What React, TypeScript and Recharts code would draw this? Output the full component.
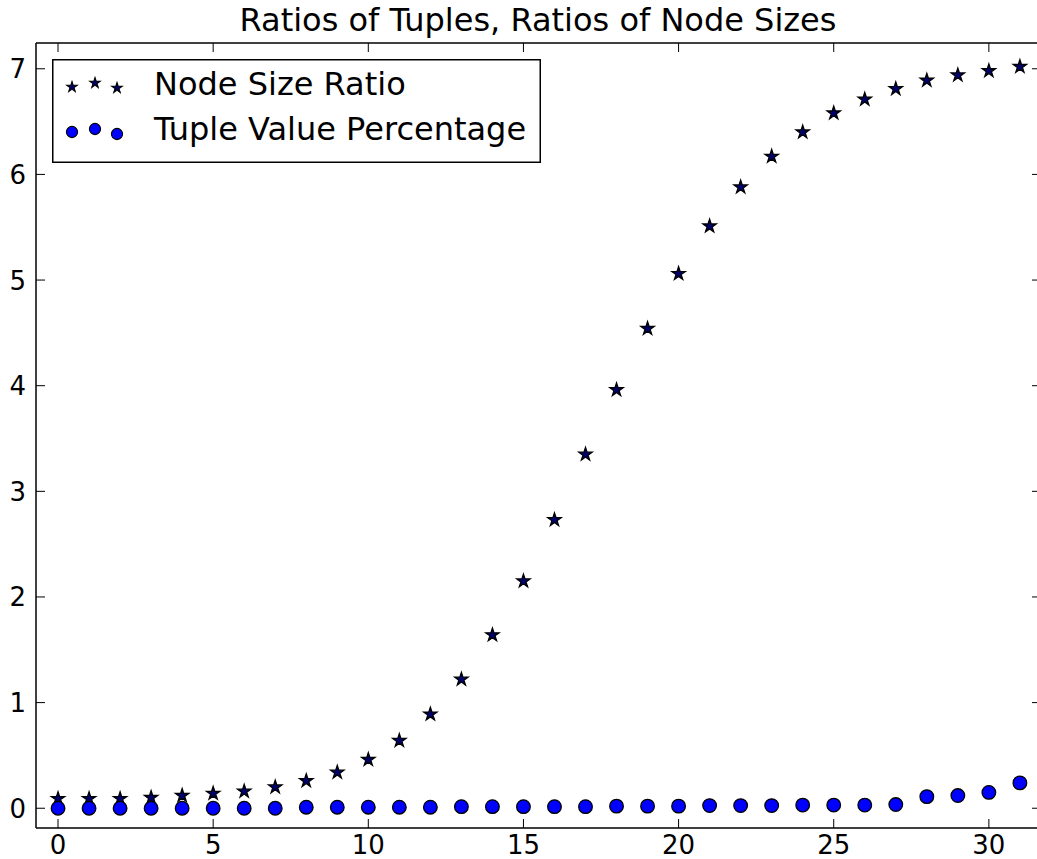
import React from 'react';
import { ScatterChart, Scatter, XAxis, YAxis, Legend } from 'recharts';

const indices = [0, 1, 2, 3, 4, 5, 6, 7, 8, 9, 10, 11, 12, 13, 14, 15, 16, 17, 18, 19, 20, 21, 22, 23, 24, 25, 26, 27, 28, 29, 30, 31];
const nodeSizeRatio = [0.09, 0.09, 0.09, 0.1, 0.12, 0.14, 0.16, 0.2, 0.26, 0.34, 0.46, 0.64, 0.89, 1.22, 1.64, 2.15, 2.73, 3.35, 3.96, 4.54, 5.06, 5.51, 5.88, 6.17, 6.4, 6.58, 6.71, 6.81, 6.89, 6.94, 6.98, 7.02];
const tupleValuePercentage = [0, 0, 0, 0, 0, 0, 0, 0, 0.01, 0.01, 0.01, 0.01, 0.01, 0.015, 0.015, 0.015, 0.015, 0.015, 0.02, 0.02, 0.02, 0.025, 0.025, 0.025, 0.03, 0.03, 0.03, 0.035, 0.11, 0.12, 0.15, 0.24];
const xTicks = [0, 5, 10, 15, 20, 25, 30];
const yTicks = [0, 1, 2, 3, 4, 5, 6, 7];
const titleText = 'Ratios of Tuples, Ratios of Node Sizes';
const seriesNames = ['Node Size Ratio', 'Tuple Value Percentage'];

const nodeData = indices.map((x, i) => ({ x, y: nodeSizeRatio[i] }));
const tupleData = indices.map((x, i) => ({ x, y: tupleValuePercentage[i] }));

const FONT = '"DejaVu Sans", sans-serif';
const TICK_LEN = 9;

function starPath(cx: number, cy: number, R: number) {
  const r = R * 0.381966;
  const pts: string[] = [];
  for (let k = 0; k < 10; k++) {
    const ang = -Math.PI / 2 + (k * Math.PI) / 5;
    const rad = k % 2 === 0 ? R : r;
    pts.push(`${(cx + rad * Math.cos(ang)).toFixed(2)},${(cy + rad * Math.sin(ang)).toFixed(2)}`);
  }
  return 'M' + pts.join('L') + 'Z';
}

const StarShape = (props: any) => {
  const { cx, cy } = props;
  if (cx == null || cy == null) return null;
  return <path d={starPath(cx, cy, 7)} fill="#00006e" stroke="#000" strokeWidth={1.3} strokeLinejoin="miter" />;
};

const CircleShape = (props: any) => {
  const { cx, cy } = props;
  if (cx == null || cy == null) return null;
  return <circle cx={cx} cy={cy} r={6.8} fill="#0000ff" stroke="#000" strokeWidth={1.3} />;
};

const BottomTick = (props: any) => {
  const { x, y, payload } = props;
  return (
    <g>
      <line x1={x} x2={x} y1={y} y2={y - TICK_LEN} stroke="#000" strokeWidth={1} />
      <text x={x} y={y + 26} textAnchor="middle" fontFamily={FONT} fontSize={26} fill="#000">
        {payload.value}
      </text>
    </g>
  );
};

const TopTick = (props: any) => {
  const { x, y } = props;
  return <line x1={x} x2={x} y1={y} y2={y + TICK_LEN} stroke="#000" strokeWidth={1} />;
};

const LeftTick = (props: any) => {
  const { x, y, payload } = props;
  return (
    <g>
      <line x1={x} x2={x + TICK_LEN} y1={y} y2={y} stroke="#000" strokeWidth={1} />
      <text x={x - 10} y={y + 9.5} textAnchor="end" fontFamily={FONT} fontSize={26} fill="#000">
        {payload.value}
      </text>
    </g>
  );
};

const RightTick = (props: any) => {
  const { x, y } = props;
  return <line x1={x} x2={x - TICK_LEN} y1={y} y2={y} stroke="#000" strokeWidth={1} />;
};

const LegendBox = (props: any) => {
  const payload = props.payload || [];
  const names = payload.length ? payload.map((p: any) => p.value) : seriesNames;
  const starXs = [20, 43, 65];
  const starYs = [28, 24, 29];
  const circYs = [73, 70, 75];
  return (
    <svg width={490} height={105} style={{ display: 'block' }}>
      <rect x={0.75} y={0.75} width={487.5} height={102.5} fill="#fff" stroke="#000" strokeWidth={1.5} />
      {starXs.map((sx, i) => (
        <path key={'s' + i} d={starPath(sx, starYs[i], 5.5)} fill="#00006e" stroke="#000" strokeWidth={1.1} />
      ))}
      {starXs.map((sx, i) => (
        <circle key={'c' + i} cx={sx} cy={circYs[i]} r={5.6} fill="#0000ff" stroke="#000" strokeWidth={1.1} />
      ))}
      <text x={102} y={36} fontFamily={FONT} fontSize={32} fill="#000">{names[0]}</text>
      <text x={102} y={81} fontFamily={FONT} fontSize={32} fill="#000">{names[1]}</text>
    </svg>
  );
};

const axisLineStyle = { stroke: '#000', strokeWidth: 1.5 };

export default function App() {
  return (
    <div style={{ position: 'absolute', left: 0, top: 0, width: 1037, height: 859, overflow: 'hidden', background: '#fff' }}>
      <ScatterChart width={1050} height={859} margin={{ top: 42, left: 35, right: 8, bottom: 30 }}>
        <XAxis
          xAxisId="b"
          dataKey="x"
          type="number"
          domain={[-0.71, 31.68]}
          ticks={xTicks}
          interval={0}
          allowDataOverflow
          height={1}
          tickSize={0}
          tickMargin={0}
          tickLine={false}
          axisLine={axisLineStyle}
          tick={<BottomTick />}
        />
        <XAxis
          xAxisId="t"
          orientation="top"
          dataKey="x"
          type="number"
          domain={[-0.71, 31.68]}
          ticks={xTicks}
          interval={0}
          allowDataOverflow
          height={1}
          tickSize={0}
          tickMargin={0}
          tickLine={false}
          axisLine={axisLineStyle}
          tick={<TopTick />}
        />
        <YAxis
          yAxisId="l"
          dataKey="y"
          type="number"
          domain={[-0.187, 7.244]}
          ticks={yTicks}
          interval={0}
          allowDataOverflow
          width={1}
          tickSize={0}
          tickMargin={0}
          tickLine={false}
          axisLine={axisLineStyle}
          tick={<LeftTick />}
        />
        <YAxis
          yAxisId="r"
          orientation="right"
          dataKey="y"
          type="number"
          domain={[-0.187, 7.244]}
          ticks={yTicks}
          interval={0}
          allowDataOverflow
          width={1}
          tickSize={0}
          tickMargin={0}
          tickLine={false}
          axisLine={axisLineStyle}
          tick={<RightTick />}
        />
        <Legend
          layout="vertical"
          align="center"
          verticalAlign="middle"
          content={<LegendBox />}
          wrapperStyle={{ position: 'absolute', left: 52, top: 59, width: 490, height: 105 }}
        />
        <Scatter
          name={seriesNames[0]}
          data={nodeData}
          xAxisId="b"
          yAxisId="l"
          shape={<StarShape />}
          isAnimationActive={false}
        />
        <Scatter
          name={seriesNames[1]}
          data={tupleData}
          xAxisId="b"
          yAxisId="l"
          shape={<CircleShape />}
          isAnimationActive={false}
        />
      </ScatterChart>
      <svg width={1037} height={42} style={{ position: 'absolute', left: 0, top: 0, pointerEvents: 'none' }}>
        <text x={538} y={31} textAnchor="middle" fontFamily={FONT} fontSize={32} fill="#000">
          {titleText}
        </text>
      </svg>
    </div>
  );
}
